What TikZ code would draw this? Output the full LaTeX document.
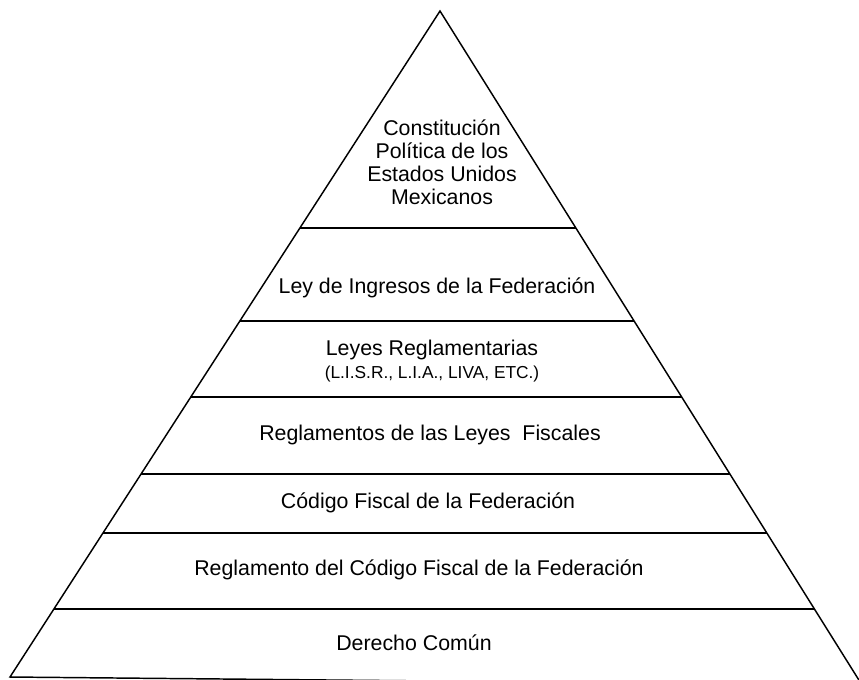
\documentclass[tikz,border=0pt]{standalone}
\usepackage{amsmath}
\usepackage{fontspec}
\setmainfont{Liberation Sans}
\usepackage{tikz}

\begin{document}
\begin{tikzpicture}[x=0.75pt,y=0.75pt,yscale=-1,xscale=1,
  leveltext/.style={align=center,inner sep=0.75pt,font=\fontsize{16}{17.25}\selectfont},
  smalltext/.style={align=center,inner sep=0.75pt,font=\fontsize{13}{14}\selectfont}]
\useasboundingbox (0,0) rectangle (859,679);
\clip (0,0) rectangle (859,679);

%Shape: Triangle [id:pyramid]
\draw [line width=1.1pt]  (440,11) -- (10,677) -- (862,685) -- cycle ;
%Straight Lines [id:level1]
\draw [line width=1.1pt]   (299.9,228) -- (575.9,228) ;
%Straight Lines [id:level2]
\draw [line width=1.1pt]   (239.9,321) -- (634.1,321) ;
%Straight Lines [id:level3]
\draw [line width=1.1pt]   (190.8,397) -- (681.7,397) ;
%Straight Lines [id:level4]
\draw [line width=1.1pt]   (141.1,474) -- (729.9,474) ;
%Straight Lines [id:level5]
\draw [line width=1.1pt]   (103,533) -- (766.8,533) ;
%Straight Lines [id:level6]
\draw [line width=1.1pt]   (53.9,609) -- (814.4,609) ;

% Text Node
\draw (442,162) node [leveltext] (constitucion) {Constitución\\Política de los\\Estados Unidos\\Mexicanos};
% Text Node
\draw (437,288) node [leveltext] (ingresos) {Ley de Ingresos de la Federación};
% Text Node
\draw (432,350) node [leveltext] (leyesregl) {Leyes Reglamentarias};
% Text Node
\draw (432,374) node [smalltext] (siglas) {(L.I.S.R., L.I.A., LIVA, ETC.)};
% Text Node
\draw (430,435) node [leveltext] (reglfiscal) {Reglamentos de las Leyes~ Fiscales};
% Text Node
\draw (428,503) node [leveltext] (codigo) {Código Fiscal de la Federación};
% Text Node
\draw (419,570) node [leveltext] (reglcodigo) {Reglamento del Código Fiscal de la Federación};
% Text Node
\draw (414,643) node [leveltext] (derecho) {Derecho Común};

\end{tikzpicture}
\end{document}
